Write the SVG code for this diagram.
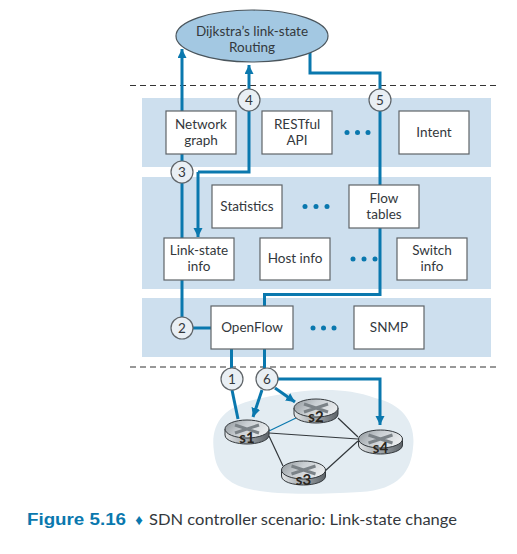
<svg xmlns="http://www.w3.org/2000/svg" width="517" height="554" viewBox="0 0 517 554">
<defs>
<marker id="ah" markerUnits="userSpaceOnUse" markerWidth="10" markerHeight="10" refX="9" refY="4.5" orient="auto"><path d="M0,0L9,4.5L0,9Z" fill="#0a78ae"/></marker>
<linearGradient id="rt" x1="0" x2="1" y1="0" y2="0.4"><stop offset="0" stop-color="#8d9499"/><stop offset="0.5" stop-color="#c9ced2"/><stop offset="1" stop-color="#e8ebed"/></linearGradient>
<linearGradient id="rb" x1="0" x2="1" y1="0" y2="0"><stop offset="0" stop-color="#e2e5e7"/><stop offset="0.5" stop-color="#a0a6ab"/><stop offset="1" stop-color="#5d6368"/></linearGradient>
<g id="router">
<path d="M-22,0V6C-22,12-10,15 0,15S22,12 22,6V0Z" fill="url(#rb)" stroke="#33383c" stroke-width="1"/>
<ellipse cx="0" cy="0" rx="22" ry="9" fill="url(#rt)" stroke="#33383c" stroke-width="1"/>
<path d="M-12,-4L12,4M12,-4L-12,4" stroke="#7b8287" stroke-width="3" fill="none"/>
</g>
</defs>
<style>
text{font-family:"Lato","Open Sans","Liberation Sans",sans-serif;fill:#33383c;text-anchor:middle}
.lb{font-size:13.5px}
.box{fill:#fff;stroke:#5f6468;stroke-width:1.2}
.band{fill:#cddfee}
.dash{stroke:#333;stroke-width:1.2;stroke-dasharray:6 4;fill:none}
.c{fill:none;stroke:#0a78ae;stroke-width:3}
.ar{marker-end:url(#ah)}
.num{fill:#e9eff4;stroke:#5f6468;stroke-width:1.2}
.dot{fill:#0a78ae}
.lnk{stroke:#33383c;stroke-width:1.2;fill:none}
.sw{font-size:15px;font-weight:700;fill:#2a2620}
</style>
<rect width="517" height="554" fill="#fff"/>
<g id="bands">
<rect class="band" x="142" y="98" width="349" height="69"/>
<rect class="band" x="142" y="177" width="349" height="112"/>
<rect class="band" x="142" y="298" width="349" height="59"/>
<line class="dash" x1="130" y1="85.5" x2="497" y2="85.5"/>
<line class="dash" x1="130" y1="367" x2="497" y2="367"/>
<path id="cloud" d="M214,452C210,425 222,405 262,398C300,390 340,385 375,398C405,405 416,425 413,448C411,470 400,490 360,492C320,494 275,496 245,488C225,482 216,470 214,452Z" fill="#e3ecf2"/>
</g>
<g id="connectors">
<path class="c ar" d="M182,111V49"/>
<path class="c ar" d="M249,89V65"/>
<path class="c" d="M249,111V172H198"/>
<path class="c ar" d="M198,172V237"/>
<path class="c" d="M310,52V73H380V89"/>
<path class="c" d="M380,111V185"/>
<path class="c" d="M182,154V161"/>
<path class="c" d="M182,183V238"/>
<path class="c" d="M182,280V317"/>
<path class="c" d="M193,328H211"/>
<path class="c" d="M380,228V294.500H264.500V306"/>
<path class="c" d="M231.500,349V368"/>
<path class="c" d="M264.500,349V368"/>
<path class="c" d="M232,390L238,419"/>
<path class="c ar" d="M262,390L253,417"/>
<path class="c ar" d="M275,388L295,402"/>
<path class="c ar" d="M277,379H380V425"/>
<path d="M269,431L296,418" fill="none" stroke="#0a78ae" stroke-width="1.200"/>
<path class="lnk" d="M269,433L358,439M338,418L358,437M269,436L283,466M325,471L358,441"/>
</g>
<g id="routing"><ellipse cx="252" cy="36" rx="76" ry="26" fill="#a3c8e2" stroke="#4a555c" stroke-width="1.200"/><text class="lb" x="252" y="35.500">Dijkstra’s link-state</text><text class="lb" x="252" y="51.700">Routing</text></g>
<g id="network-graph"><rect class="box" x="166" y="111" width="70" height="43"/><text class="lb" x="201" y="129">Network</text><text class="lb" x="201" y="145.200">graph</text></g>
<g id="restful-api"><rect class="box" x="262" y="111" width="70" height="43"/><text class="lb" x="297" y="129">RESTful</text><text class="lb" x="297" y="145.200">API</text></g>
<g id="intent"><rect class="box" x="399" y="111" width="70" height="43"/><text class="lb" x="434" y="137">Intent</text></g>
<g id="statistics"><rect class="box" x="212" y="185" width="70" height="43"/><text class="lb" x="247" y="211">Statistics</text></g>
<g id="flow-tables"><rect class="box" x="349" y="185" width="70" height="43"/><text class="lb" x="384" y="203">Flow</text><text class="lb" x="384" y="219.200">tables</text></g>
<g id="link-state-info"><rect class="box" x="164" y="238" width="70" height="42"/><text class="lb" x="199" y="255">Link-state</text><text class="lb" x="199" y="271.200">info</text></g>
<g id="host-info"><rect class="box" x="260" y="238" width="70" height="42"/><text class="lb" x="295" y="263">Host info</text></g>
<g id="switch-info"><rect class="box" x="397" y="238" width="70" height="42"/><text class="lb" x="432" y="255">Switch</text><text class="lb" x="432" y="271.200">info</text></g>
<g id="openflow"><rect class="box" x="211" y="306" width="82" height="43"/><text class="lb" x="252" y="332">OpenFlow</text></g>
<g id="snmp"><rect class="box" x="354" y="306" width="70" height="43"/><text class="lb" x="389" y="332">SNMP</text></g>
<g id="ellipses">
<circle class="dot" cx="347" cy="132.500" r="2.500"/><circle class="dot" cx="357.500" cy="132.500" r="2.500"/><circle class="dot" cx="368" cy="132.500" r="2.500"/>
<circle class="dot" cx="305" cy="206.500" r="2.500"/><circle class="dot" cx="316" cy="206.500" r="2.500"/><circle class="dot" cx="327" cy="206.500" r="2.500"/>
<circle class="dot" cx="353" cy="259" r="2.500"/><circle class="dot" cx="364" cy="259" r="2.500"/><circle class="dot" cx="375" cy="259" r="2.500"/>
<circle class="dot" cx="313" cy="328" r="2.500"/><circle class="dot" cx="323.500" cy="328" r="2.500"/><circle class="dot" cx="334" cy="328" r="2.500"/>
</g>
<g id="step-1"><circle class="num" cx="232" cy="379" r="11"/><text class="lb" x="232" y="384">1</text></g>
<g id="step-2"><circle class="num" cx="182" cy="328" r="11"/><text class="lb" x="182" y="333">2</text></g>
<g id="step-3"><circle class="num" cx="182" cy="172" r="11"/><text class="lb" x="182" y="177">3</text></g>
<g id="step-4"><circle class="num" cx="249" cy="100" r="11"/><text class="lb" x="249" y="105">4</text></g>
<g id="step-5"><circle class="num" cx="380" cy="100" r="11"/><text class="lb" x="380" y="105">5</text></g>
<g id="step-6"><circle class="num" cx="267" cy="379" r="11"/><text class="lb" x="267" y="384">6</text></g>
<g id="s1"><use href="#router" x="247" y="429"/><text class="sw" x="247" y="443">s1</text></g>
<g id="s2"><use href="#router" x="316" y="408"/><text class="sw" x="316" y="422">s2</text></g>
<g id="s3"><use href="#router" x="303.500" y="470"/><text class="sw" x="303.500" y="485">s3</text></g>
<g id="s4"><use href="#router" x="380.500" y="439"/><text class="sw" x="380.500" y="453">s4</text></g>
<g id="caption">
<text x="27" y="525" style="text-anchor:start;font-family:'Liberation Sans',sans-serif;font-weight:700;font-size:16px;fill:#0a78ae" textLength="99" lengthAdjust="spacingAndGlyphs">Figure 5.16</text>
<text x="139" y="525" style="font-size:15px;fill:#0a78ae">♦</text>
<text x="149" y="525" style="text-anchor:start;font-size:16px" textLength="308" lengthAdjust="spacingAndGlyphs">SDN controller scenario: Link-state change</text>
</g>
</svg>
